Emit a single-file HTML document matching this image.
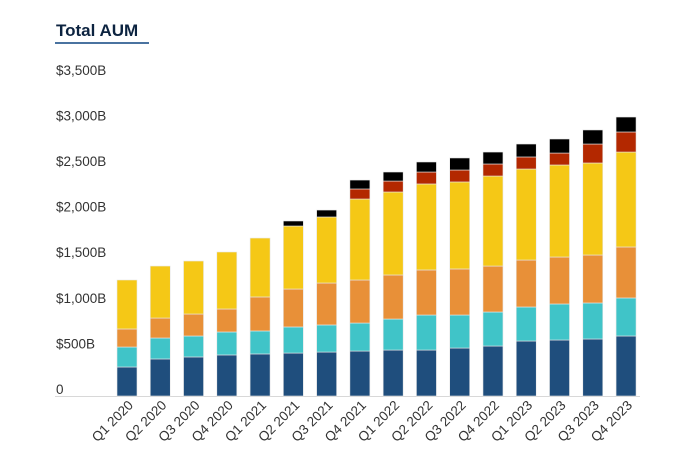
<!DOCTYPE html>
<html><head><meta charset="utf-8"><style>
html,body{margin:0;padding:0;background:#fff;}
svg{display:block;font-family:"Liberation Sans",sans-serif;}
</style></head><body>
<svg id="chart" width="678" height="474" viewBox="0 0 678 474">
<text x="56" y="36" font-size="17" font-weight="bold" fill="#0c2340">Total AUM</text>
<rect x="55" y="42" width="94" height="2" fill="#4a73a0"/>
<line x1="55" y1="396.5" x2="640" y2="396.5" stroke="#d8d8d8" stroke-width="1"/>
<g id="yaxis"></g><g id="bars"></g><g id="xaxis"></g>
</svg>
<script>
const categories=["Q1 2020","Q2 2020","Q3 2020","Q4 2020","Q1 2021","Q2 2021","Q3 2021","Q4 2021","Q1 2022","Q2 2022","Q3 2022","Q4 2022","Q1 2023","Q2 2023","Q3 2023","Q4 2023"];
const navy=[318,406,428,450,461,471,482,493,504,504,526,548,603,614,625,658];
const teal=[219,230,230,252,252,286,297,307,340,384,362,373,373,395,395,417];
const orange=[198,219,241,252,373,416,460,472,483,494,505,504,515,515,526,559];
const yellow=[537,570,581,625,646,691,724,888,910,943,954,987,998,1009,1009,1041];
const red=[0,0,0,0,0,0,0,110,120,131,131,132,132,131,208,220];
const black=[0,0,0,0,0,55,76,98,99,110,132,131,142,154,154,164];
const yTicks=[0,500,1000,1500,2000,2500,3000,3500];
const yTickLabels=["0","$500B","$1,000B","$1,500B","$2,000B","$2,500B","$3,000B","$3,500B"];

const NS="http://www.w3.org/2000/svg";
const base=396, scale=0.0912;
function yPos(v){return base-v*scale;}
function xPos(i){return 117+i*33.27;}
const barW=20;
const series=[[navy,"#1f4e7d","navy"],[teal,"#40c4c8","teal"],[orange,"#e89038","orange"],[yellow,"#f5c816","yellow"],[red,"#b32800","red"],[black,"#000000","black"]];
const yg=document.getElementById("yaxis");
yTicks.forEach((t,k)=>{
  const tx=document.createElementNS(NS,"text");
  tx.setAttribute("x",56);tx.setAttribute("y",yPos(t)-2);
  tx.setAttribute("font-size","13.5");tx.setAttribute("fill","#333");
  tx.textContent=yTickLabels[k];
  
  
  yg.appendChild(tx);
});
const bg=document.getElementById("bars"), xg=document.getElementById("xaxis");
categories.forEach((c,i)=>{
  let cum=0;
  series.forEach(([arr,col,nm])=>{
    const v=arr[i]; if(!v) return;
    const r=document.createElementNS(NS,"rect");
    r.setAttribute("x",xPos(i));r.setAttribute("width",barW);
    r.setAttribute("y",yPos(cum+v));r.setAttribute("height",v*scale);
    r.setAttribute("fill",col);r.setAttribute("stroke","#e8e8e8");r.setAttribute("stroke-width","0.6");
    
    
    bg.appendChild(r);
    cum+=v;
  });
  const cx=xPos(i)+barW/2+7, cy=406;
  const tx=document.createElementNS(NS,"text");
  tx.setAttribute("x",cx);tx.setAttribute("y",cy);
  tx.setAttribute("text-anchor","end");tx.setAttribute("font-size","13.5");tx.setAttribute("fill","#333");
  tx.setAttribute("transform","rotate(-45 "+cx+" "+cy+")");
  tx.textContent=c;
  
  
  xg.appendChild(tx);
});
</script>
</body></html>
